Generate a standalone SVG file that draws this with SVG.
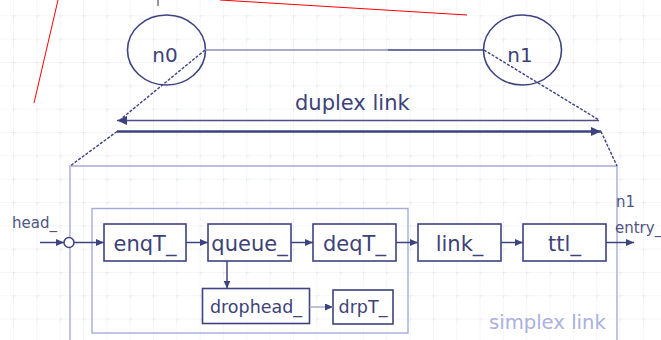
<svg xmlns="http://www.w3.org/2000/svg" width="661" height="340" viewBox="0 0 661 340">
  <style>
    .box { fill: #ffffff; stroke: #3e4380; stroke-width: 1.6; }
    .lbl { font-family: "DejaVu Sans", "Liberation Sans", sans-serif; fill: #3d4278; text-anchor: middle; }
    .wire { stroke: #3e4380; stroke-width: 1.5; fill: none; }
    .dash { stroke: #3e4380; stroke-width: 1.4; fill: none; stroke-dasharray: 3 1.5; }
    .frame { stroke: #a5acda; stroke-width: 1.4; fill: none; }
    .side { font-family: "DejaVu Sans", "Liberation Sans", sans-serif; fill: #505582; font-size: 15px; }
  </style>
  <defs>
    <pattern id="grid" x="13" y="15.3" width="23.33" height="23.33" patternUnits="userSpaceOnUse">
      <path d="M0,0 H23.33 M0,0 V23.33" stroke="#eceef6" stroke-width="1" fill="none"/>
      <path d="M-3,0 H3 M0,-3 V3" stroke="#d9dcea" stroke-width="1" fill="none"/>
    </pattern>
    <marker id="ah" markerWidth="9" markerHeight="8" refX="8" refY="3.5" orient="auto" markerUnits="userSpaceOnUse">
      <path d="M0,0 L8,3.5 L0,7 z" fill="#3e4380"/>
    </marker>
    <marker id="ahL" markerWidth="11" markerHeight="10" refX="10" refY="4.5" orient="auto" markerUnits="userSpaceOnUse">
      <path d="M0,0 L10,4.5 L0,9 z" fill="#3e4380"/>
    </marker>
  </defs>

  <!-- graph-paper background -->
  <rect x="0" y="0" width="661" height="340" fill="#ffffff"/>
  <rect x="0" y="0" width="661" height="340" fill="url(#grid)"/>

  <!-- stray pen strokes along the top edge -->
  <line x1="58" y1="0" x2="34" y2="103" stroke="#ff0000" stroke-width="1"/>
  <line x1="220" y1="0" x2="467" y2="15" stroke="#ff0000" stroke-width="1"/>
  <line x1="158" y1="0" x2="158" y2="6" stroke="#555555" stroke-width="1.2"/>

  <!-- nodes -->
  <g id="n0">
    <ellipse cx="166.5" cy="50" rx="39" ry="35" fill="none" stroke="#3e4380" stroke-width="1.6"/>
    <text class="lbl" x="165" y="62" font-size="20">n0</text>
  </g>
  <g id="n1">
    <ellipse cx="522.5" cy="50" rx="39" ry="35" fill="none" stroke="#3e4380" stroke-width="1.6"/>
    <text class="lbl" x="520" y="62" font-size="20">n1</text>
  </g>

  <!-- simplex link frame -->
  <g id="simplex-frame">
    <polyline class="frame" points="70,340 70,166 617,166 617,340"/>
    <rect class="frame" x="92" y="208.5" width="316" height="124.5" stroke-width="1.2"/>
    <text x="489" y="329" font-family="DejaVu Sans, Liberation Sans, sans-serif" font-size="19.6" fill="#aab1de">simplex link</text>
  </g>

  <g id="enqT">
    <rect class="box" x="104" y="224" width="82" height="37"/>
    <text class="lbl" x="145" y="251" font-size="21">enqT_</text>
  </g>
  <g id="queue">
    <rect class="box" x="208" y="224" width="83" height="37"/>
    <text class="lbl" x="249.5" y="251" font-size="21">queue_</text>
  </g>
  <g id="deqT">
    <rect class="box" x="313" y="224" width="83" height="37"/>
    <text class="lbl" x="354.5" y="251" font-size="21">deqT_</text>
  </g>
  <g id="link">
    <rect class="box" x="418" y="224" width="83" height="37"/>
    <text class="lbl" x="459.5" y="251" font-size="21">link_</text>
  </g>
  <g id="ttl">
    <rect class="box" x="523" y="224" width="83" height="37"/>
    <text class="lbl" x="564.5" y="251" font-size="21">ttl_</text>
  </g>
  <g id="drophead">
    <rect class="box" x="202.5" y="288.5" width="107" height="35"/>
    <text class="lbl" x="256" y="313" font-size="17.5">drophead_</text>
  </g>
  <g id="drpT">
    <rect class="box" x="333" y="290" width="60" height="34"/>
    <text class="lbl" x="363" y="313" font-size="17.5">drpT_</text>
  </g>
  <g id="head">
    <text class="side" x="12" y="228">head_</text>
    <circle cx="69" cy="242.5" r="5" fill="#ffffff" stroke="#3e4380" stroke-width="1.5"/>
  </g>
  <g id="entry">
    <text class="side" x="616" y="207" font-size="14">n1</text>
    <text class="side" x="615" y="233" font-size="13.5">entry_</text>
  </g>

  <!-- duplex link label -->
  <text x="295" y="110" font-family="DejaVu Sans, Liberation Sans, sans-serif" font-size="21" fill="#3d4278">duplex link</text>

  <!-- connectors -->
  <g id="connectors">
    <line x1="205" y1="50" x2="388" y2="50" stroke="#8a8fb8" stroke-width="1.5"/>
    <line x1="388" y1="50" x2="484" y2="50" stroke="#3e4380" stroke-width="1.5"/>
    <line class="dash" x1="205" y1="50" x2="121" y2="119"/>
    <line class="dash" x1="484" y1="50" x2="599" y2="120"/>
    <line x1="599" y1="120.5" x2="117" y2="120.5" stroke="#4a4f88" stroke-width="1.5" marker-end="url(#ahL)"/>
    <line x1="117" y1="131.5" x2="601" y2="131.5" stroke="#3e4380" stroke-width="2.6" marker-end="url(#ahL)"/>
    <line class="dash" x1="117" y1="131.5" x2="70" y2="166"/>
    <line class="dash" x1="601" y1="131.5" x2="617" y2="166"/>

    <line class="wire" x1="40" y1="242.5" x2="64" y2="242.5" marker-end="url(#ah)"/>
    <line class="wire" x1="74" y1="242.5" x2="104" y2="242.5" marker-end="url(#ah)"/>
    <line class="wire" x1="186" y1="242.5" x2="208" y2="242.5" marker-end="url(#ah)"/>
    <line class="wire" x1="291" y1="242.5" x2="313" y2="242.5" marker-end="url(#ah)"/>
    <line class="wire" x1="396" y1="242.5" x2="418" y2="242.5" marker-end="url(#ah)"/>
    <line class="wire" x1="501" y1="242.5" x2="523" y2="242.5" marker-end="url(#ah)"/>
    <line class="wire" x1="606" y1="242.5" x2="634" y2="242.5" marker-end="url(#ah)"/>
    <line class="wire" x1="227" y1="261" x2="227" y2="288.5" marker-end="url(#ah)"/>
    <line x1="309.5" y1="307" x2="333" y2="307" stroke="#9aa0c4" stroke-width="1.3" marker-end="url(#ah)"/>
  </g>
</svg>
